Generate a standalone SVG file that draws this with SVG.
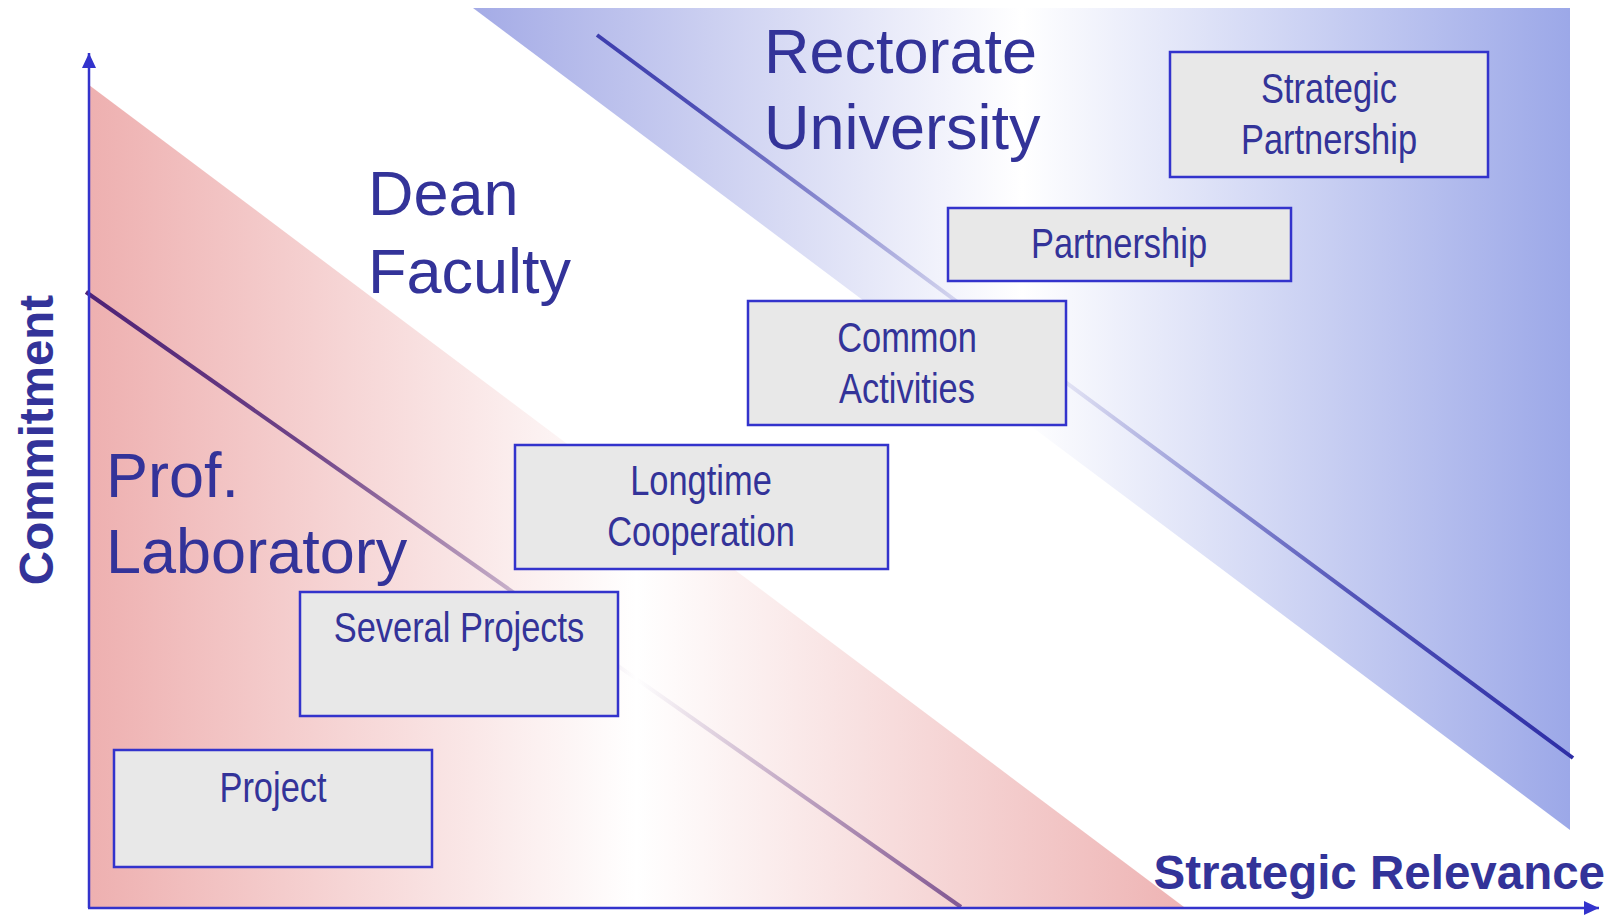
<svg xmlns="http://www.w3.org/2000/svg" width="1614" height="917" viewBox="0 0 1614 917">
  <defs>
    <!-- band fills: saturated at both ends, white in the middle -->
    <linearGradient id="redBand" gradientUnits="userSpaceOnUse" x1="89" y1="0" x2="1184" y2="0">
      <stop offset="0" stop-color="#EEB0B0"/>
      <stop offset="0.5" stop-color="#FFFFFF"/>
      <stop offset="1" stop-color="#EEB4B4"/>
    </linearGradient>
    <linearGradient id="blueBand" gradientUnits="userSpaceOnUse" x1="473" y1="0" x2="1570" y2="0">
      <stop offset="0" stop-color="#A4ABE6"/>
      <stop offset="0.5" stop-color="#FFFFFF"/>
      <stop offset="1" stop-color="#9CA8E8"/>
    </linearGradient>
    <!-- trend lines fade out where the bands turn white -->
    <linearGradient id="redLine" gradientUnits="userSpaceOnUse" x1="89" y1="0" x2="1184" y2="0">
      <stop offset="0" stop-color="#4E2277" stop-opacity="1"/>
      <stop offset="0.2" stop-color="#4E2277" stop-opacity="0.8"/>
      <stop offset="0.5" stop-color="#4E2277" stop-opacity="0"/>
      <stop offset="0.8" stop-color="#4E2277" stop-opacity="0.7"/>
      <stop offset="1" stop-color="#4E2277" stop-opacity="1"/>
    </linearGradient>
    <linearGradient id="blueLine" gradientUnits="userSpaceOnUse" x1="473" y1="0" x2="1570" y2="0">
      <stop offset="0" stop-color="#2E2EA6" stop-opacity="1"/>
      <stop offset="0.2" stop-color="#2E2EA6" stop-opacity="0.8"/>
      <stop offset="0.5" stop-color="#2E2EA6" stop-opacity="0"/>
      <stop offset="0.8" stop-color="#2E2EA6" stop-opacity="0.75"/>
      <stop offset="1" stop-color="#2E2EA6" stop-opacity="1"/>
    </linearGradient>
    <marker id="axisHead" viewBox="0 0 15 14" refX="15" refY="7" markerWidth="15" markerHeight="14" markerUnits="userSpaceOnUse" orient="auto">
      <path d="M0,0 L15,7 L0,14 Z" fill="#3333CC"/>
    </marker>
    <style>
      .box { fill: #E8E8E8; stroke: #3333CC; stroke-width: 2.5; }
      .boxText { font-family: "Liberation Sans", Arial, sans-serif; font-size: 42px; fill: #333399; text-anchor: middle; }
      .level { font-family: "Liberation Sans", Arial, sans-serif; font-size: 63px; fill: #333399; }
      .axisLabel { font-family: "Liberation Sans", Arial, sans-serif; font-size: 47.5px; font-weight: bold; fill: #333399; }
      .axis { stroke: #3333CC; stroke-width: 2.5; fill: none; }
    </style>
  </defs>

  <rect width="1614" height="917" fill="#FFFFFF"/>

  <!-- background bands -->
  <g id="bands">
    <polygon points="89,85 89,907 1184,907" fill="url(#redBand)"/>
    <polygon points="473,8 1570,8 1570,830" fill="url(#blueBand)"/>
  </g>

  <!-- connectors: trend lines and axes -->
  <g id="connectors">
    <line x1="86" y1="292" x2="961" y2="907" stroke="url(#redLine)" stroke-width="4"/>
    <line x1="597" y1="35" x2="1573" y2="758" stroke="url(#blueLine)" stroke-width="4"/>
    <line class="axis" x1="89" y1="908" x2="89" y2="53" marker-end="url(#axisHead)"/>
    <line class="axis" x1="88" y1="908" x2="1599" y2="908" marker-end="url(#axisHead)"/>
  </g>

  <!-- level labels -->
  <g id="levels">
    <text class="level" x="764" y="73">Rectorate</text>
    <text class="level" x="764" y="149">University</text>
    <text class="level" x="368" y="215">Dean</text>
    <text class="level" x="368" y="293">Faculty</text>
    <text class="level" x="106" y="497">Prof.</text>
    <text class="level" x="106" y="573">Laboratory</text>
  </g>

  <!-- axis labels -->
  <g id="axisLabels">
    <text class="axisLabel" x="1605" y="889" text-anchor="end">Strategic Relevance</text>
    <text class="axisLabel" transform="translate(53,440) rotate(-90)" text-anchor="middle">Commitment</text>
  </g>

  <!-- nodes -->
  <g id="node-project">
    <rect class="box" x="114" y="750" width="318" height="117"/>
    <text class="boxText" transform="translate(273,802) scale(0.82 1)">Project</text>
  </g>
  <g id="node-several-projects">
    <rect class="box" x="300" y="592" width="318" height="124"/>
    <text class="boxText" transform="translate(459,642) scale(0.82 1)">Several Projects</text>
  </g>
  <g id="node-longtime-cooperation">
    <rect class="box" x="515" y="445" width="373" height="124"/>
    <text class="boxText" transform="translate(701,495) scale(0.82 1)">Longtime</text>
    <text class="boxText" transform="translate(701,546) scale(0.82 1)">Cooperation</text>
  </g>
  <g id="node-common-activities">
    <rect class="box" x="748" y="301" width="318" height="124"/>
    <text class="boxText" transform="translate(907,352) scale(0.82 1)">Common</text>
    <text class="boxText" transform="translate(907,403) scale(0.82 1)">Activities</text>
  </g>
  <g id="node-partnership">
    <rect class="box" x="948" y="208" width="343" height="73"/>
    <text class="boxText" transform="translate(1119,258) scale(0.82 1)">Partnership</text>
  </g>
  <g id="node-strategic-partnership">
    <rect class="box" x="1170" y="52" width="318" height="125"/>
    <text class="boxText" transform="translate(1329,103) scale(0.82 1)">Strategic</text>
    <text class="boxText" transform="translate(1329,154) scale(0.82 1)">Partnership</text>
  </g>
</svg>
